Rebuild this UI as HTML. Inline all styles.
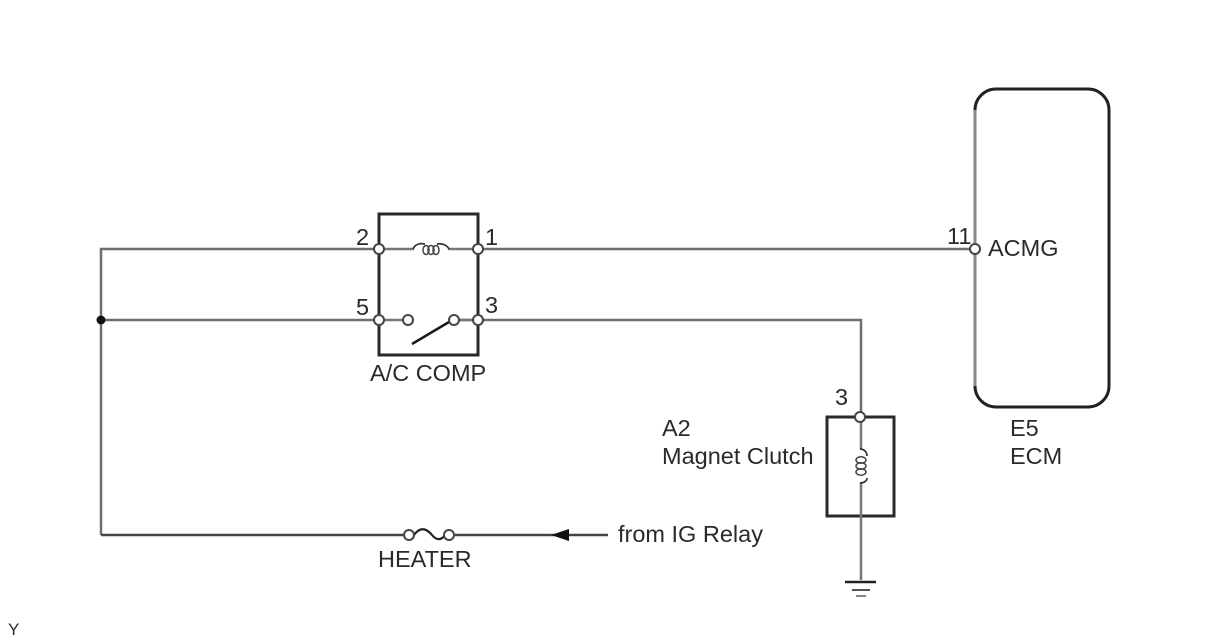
<!DOCTYPE html>
<html>
<head>
<meta charset="utf-8">
<style>
html,body{margin:0;padding:0;background:#fff;width:1208px;height:644px;overflow:hidden}
svg{display:block}
text{font-family:"Liberation Sans",sans-serif;font-size:23.5px;fill:#2a2a2a}
</style>
</head>
<body>
<svg width="1208" height="644" viewBox="0 0 1208 644" xmlns="http://www.w3.org/2000/svg">
<!-- wires -->
<g fill="none" stroke="#6e6e6e" stroke-width="2.5">
<path d="M379 249H101V535"/>
<path d="M101 320H379"/>
<path d="M478 249H975"/>
<path d="M454 320H861V417"/>
<path d="M449 535H608" stroke="#444"/>
<path d="M409 535H101" stroke="#444"/>
</g>
<!-- relay box -->
<rect x="379" y="214" width="99" height="141" fill="none" stroke="#2a2a2a" stroke-width="3"/>
<path d="M379 249H414M448 249H478M379 320H408M454 320H478" stroke="#777" stroke-width="2.5" fill="none"/>
<!-- relay coil -->
<path d="M413 249C415 244 420 243 425 244M437 244C442 243 447 245 449 249" fill="none" stroke="#333" stroke-width="1.7"/>
<g fill="none" stroke="#444" stroke-width="1.5">
<ellipse cx="426" cy="250" rx="3" ry="4.5"/>
<ellipse cx="431" cy="250" rx="3" ry="4.5"/>
<ellipse cx="436" cy="250" rx="3" ry="4.5"/>
</g>
<!-- switch -->
<path d="M412 344L449 322" stroke="#1a1a1a" stroke-width="2.5"/>
<!-- clutch box -->
<rect x="827" y="417" width="67" height="99" fill="none" stroke="#2a2a2a" stroke-width="3"/>
<path d="M861 417V449M861 483V580" stroke="#777" stroke-width="2.5" fill="none"/>
<!-- clutch coil -->
<path d="M860 449C864 449 867 452 867 456M867 478C867 481 864 483 860 483" fill="none" stroke="#333" stroke-width="1.7"/>
<g fill="none" stroke="#444" stroke-width="1.5">
<ellipse cx="861" cy="460" rx="5" ry="3.2"/>
<ellipse cx="861" cy="466" rx="5" ry="3.2"/>
<ellipse cx="861" cy="472" rx="5" ry="3.2"/>
</g>
<!-- ground -->
<path d="M845 582H876" stroke="#222" stroke-width="2.5"/>
<path d="M852 590H870" stroke="#555" stroke-width="2"/>
<path d="M856 596H866" stroke="#777" stroke-width="1.8"/>
<!-- ECM -->
<rect x="975" y="89" width="134" height="318" rx="21" ry="21" fill="none" stroke="#222" stroke-width="3"/>
<path d="M975 110V386" stroke="#8a8a8a" stroke-width="3"/>
<!-- fuse -->
<path d="M414 535C421 525 428 530 432 535C436 540 441 541 445 535" fill="none" stroke="#222" stroke-width="2.2"/>
<!-- arrow -->
<path d="M551 535L569 529V541Z" fill="#111"/>
<!-- junction -->
<circle cx="101" cy="320" r="4.5" fill="#111"/>
<!-- terminals -->
<g fill="#fff" stroke="#444" stroke-width="2">
<circle cx="379" cy="249" r="5"/>
<circle cx="478" cy="249" r="5"/>
<circle cx="379" cy="320" r="5"/>
<circle cx="408" cy="320" r="5"/>
<circle cx="454" cy="320" r="5"/>
<circle cx="478" cy="320" r="5"/>
<circle cx="860" cy="417" r="5"/>
<circle cx="975" cy="249" r="5"/>
<circle cx="409" cy="535" r="5"/>
<circle cx="449" cy="535" r="5"/>
</g>
<!-- labels -->
<text x="356" y="245">2</text>
<text x="485" y="245">1</text>
<text x="356" y="315">5</text>
<text x="485" y="313">3</text>
<text x="370" y="381">A/C COMP</text>
<text x="835" y="405">3</text>
<text x="662" y="436">A2</text>
<text x="662" y="464">Magnet Clutch</text>
<text x="947" y="244">11</text>
<text x="988" y="256">ACMG</text>
<text x="1010" y="436">E5</text>
<text x="1010" y="464">ECM</text>
<text x="618" y="542">from IG Relay</text>
<text x="378" y="567">HEATER</text>
<text x="8" y="635" style="font-size:17px">Y</text>
</svg>
</body>
</html>
